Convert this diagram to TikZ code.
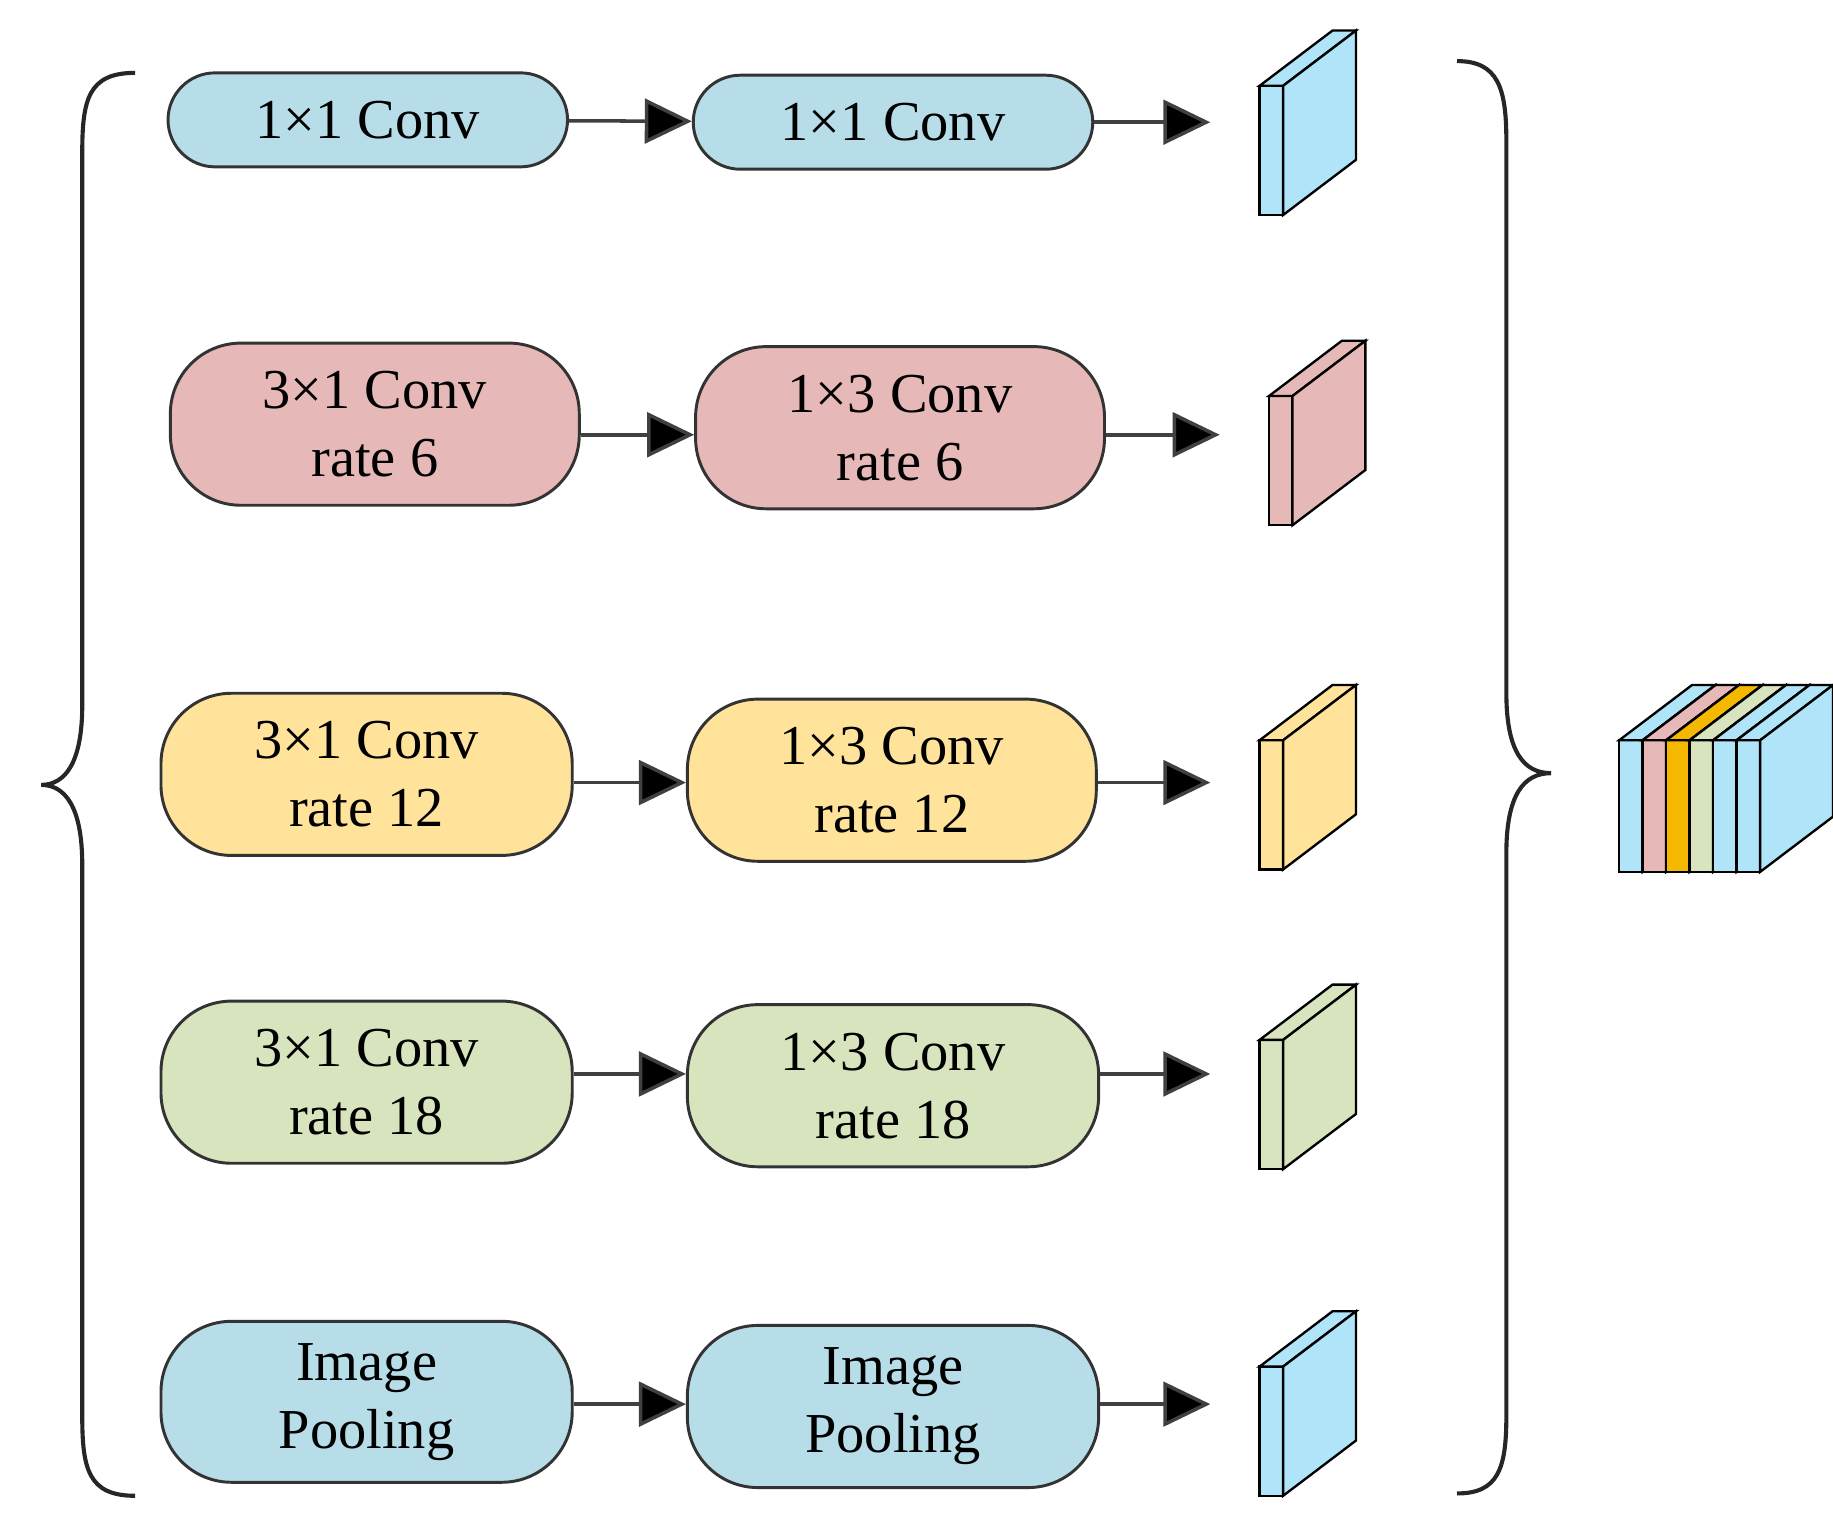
\documentclass[tikz,border=0pt]{standalone}
\usepackage{fontspec}
\setmainfont{Liberation Serif}
\usetikzlibrary{arrows.meta}
\definecolor{bb}{HTML}{B7DDE8}
\definecolor{rb}{HTML}{E6B9B8}
\definecolor{yb}{HTML}{FFE39B}
\definecolor{gb}{HTML}{D7E4BD}
\definecolor{cb}{HTML}{B0E4F9}
\definecolor{ob}{HTML}{F5B800}
\tikzset{
 box/.style={draw=black!80,line width=2.5pt,rounded corners=40pt,align=center,inner sep=0pt,font=\fontsize{48}{58}\selectfont},
 arr/.style={draw=black!75,line width=3pt,-{Triangle[length=40pt,width=38pt,fill=black]}},
 br/.style={line width=3.5pt,draw=black!85}
}
\newcommand{\mycube}[4]{% x y(bottom) color height
 \fill[#3,draw=black,line width=2pt] (#1,#2) -- (#1+20,#2) -- (#1+20,#2-#4) -- (#1,#2-#4) -- cycle;
 \fill[#3,draw=black,line width=2pt] (#1,#2-#4) -- (#1+62,#2-#4-47) -- (#1+82,#2-#4-47) -- (#1+20,#2-#4) -- cycle;
 \fill[#3,draw=black,line width=2pt] (#1+20,#2) -- (#1+82,#2-47) -- (#1+82,#2-#4-47) -- (#1+20,#2-#4) -- cycle;
}
\begin{document}
\begin{tikzpicture}[x=1pt,y=-1pt]
\useasboundingbox (0,0) rectangle (1560,1294);
% row 1
\node[box,fill=bb,minimum width=340pt,minimum height=80pt] (a1) at (313,102) {1×1 Conv};
\node[box,fill=bb,minimum width=340pt,minimum height=80pt] (b1) at (760,104) {1×1 Conv};
\coordinate (c1) at (1030,104);
\draw[arr] (a1) -- (b1);
\draw[arr] (b1) -- (c1);
\mycube{1072}{183}{cb}{110}
% row 2
\node[box,fill=rb,minimum width=348pt,minimum height=138pt,rounded corners=60pt] (a2) at (319,361) {3×1 Conv\\rate 6};
\node[box,fill=rb,minimum width=348pt,minimum height=138pt,rounded corners=60pt] (b2) at (766,364) {1×3 Conv\\rate 6};
\coordinate (c2) at (1038,370);
\draw[arr] (a2.east|-0,370) -- (b2.west|-0,370);
\draw[arr] (b2.east|-0,370) -- (c2);
\mycube{1080}{447}{rb}{110}
% row 3
\node[box,fill=yb,minimum width=350pt,minimum height=138pt,rounded corners=60pt] (a3) at (312,659) {3×1 Conv\\rate 12};
\node[box,fill=yb,minimum width=348pt,minimum height=138pt,rounded corners=60pt] (b3) at (759,664) {1×3 Conv\\rate 12};
\coordinate (c3) at (1030,666);
\draw[arr] (a3.east|-0,666) -- (b3.west|-0,666);
\draw[arr] (b3.east|-0,666) -- (c3);
\mycube{1072}{740}{yb}{110}
% row 4
\node[box,fill=gb,minimum width=350pt,minimum height=138pt,rounded corners=60pt] (a4) at (312,921) {3×1 Conv\\rate 18};
\node[box,fill=gb,minimum width=350pt,minimum height=138pt,rounded corners=60pt] (b4) at (760,924) {1×3 Conv\\rate 18};
\coordinate (c4) at (1030,914);
\draw[arr] (a4.east|-0,914) -- (b4.west|-0,914);
\draw[arr] (b4.east|-0,914) -- (c4);
\mycube{1072}{995}{gb}{110}
% row 5
\node[box,fill=bb,minimum width=350pt,minimum height=137pt,rounded corners=60pt] (a5) at (312,1193) {Image\\Pooling};
\node[box,fill=bb,minimum width=350pt,minimum height=138pt,rounded corners=60pt] (b5) at (760,1197) {Image\\Pooling};
\coordinate (c5) at (1030,1195);
\draw[arr] (a5.east|-0,1195) -- (b5.west|-0,1195);
\draw[arr] (b5.east|-0,1195) -- (c5);
\mycube{1072}{1273}{cb}{110}
% braces
\draw[br] (115,62) .. controls (75,62) and (70,85) .. (70,130) -- (70,600) .. controls (70,650) and (55,668) .. (35,668)
 .. controls (55,668) and (70,686) .. (70,736) -- (70,1205) .. controls (70,1250) and (75,1273) .. (115,1273);
\draw[br] (1240,52) .. controls (1275,52) and (1282,75) .. (1282,120) -- (1282,590) .. controls (1282,640) and (1297,658) .. (1320,658)
 .. controls (1297,658) and (1282,676) .. (1282,726) -- (1282,1205) .. controls (1282,1250) and (1275,1271) .. (1240,1271);
% stack
\mycube{1378}{742}{cb}{112}
\mycube{1398}{742}{rb}{112}
\mycube{1418}{742}{ob}{112}
\mycube{1438}{742}{gb}{112}
\mycube{1458}{742}{cb}{112}
\mycube{1478}{742}{cb}{112}
\end{tikzpicture}
\end{document}
